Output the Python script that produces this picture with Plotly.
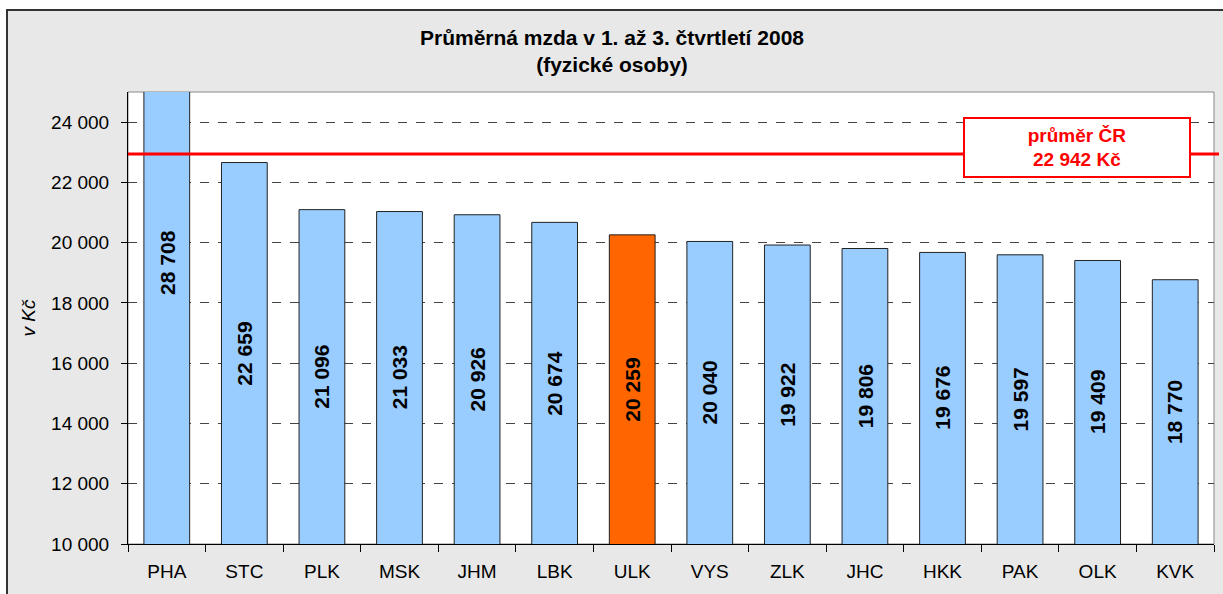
import plotly.graph_objects as go

categories = ["PHA", "STC", "PLK", "MSK", "JHM", "LBK", "ULK", "VYS", "ZLK", "JHC", "HKK", "PAK", "OLK", "KVK"]
values = [28708, 22659, 21096, 21033, 20926, 20674, 20259, 20040, 19922, 19806, 19676, 19597, 19409, 18770]
highlight = "ULK"
average_cr = 22942
y_ticks = [10000, 12000, 14000, 16000, 18000, 20000, 22000, 24000]

def fmt(v):
    return f"{v:,}".replace(",", " ")

FONT = "Liberation Sans, Arial"
colors = ["#ff6600" if c == highlight else "#99ccff" for c in categories]
base = 10000
mid = [(base + v) / 2 for v in values]

fig = go.Figure()
fig.add_trace(go.Bar(
    x=categories, y=values, marker=dict(color=colors, line=dict(color="#222222", width=1)),
    width=0.59, hoverinfo="skip",
))
for c, m, v in zip(categories, mid, values):
    fig.add_annotation(x=c, y=m, xref="x", yref="y", text="<b>" + fmt(v) + "</b>",
                       textangle=-90, showarrow=False,
                       font=dict(family=FONT, size=21, color="black"))

L, R, T, B = 128, 9, 92, 50
W, H = 1223, 594
pw, ph = W - L - R, H - T - B

def px_x(p):
    return (p - L) / pw

def px_y(p):
    return (H - B - p) / ph

# outer frame
fig.add_shape(type="rect", xref="paper", yref="paper",
              x0=px_x(7), x1=px_x(1240), y0=px_y(610), y1=px_y(10),
              fillcolor="#e8e8e8", line=dict(color="#333333", width=2), layer="below")
# plot background
fig.add_shape(type="rect", xref="paper", yref="paper", x0=0, x1=1, y0=0, y1=1,
              fillcolor="white", line=dict(color="#888888", width=1), layer="below")
# average line
fig.add_shape(type="line", xref="paper", yref="y", x0=0, x1=px_x(1219), y0=average_cr, y1=average_cr,
              line=dict(color="#ff0000", width=3), layer="above")
fig.add_annotation(xref="paper", yref="paper", x=px_x(1077), y=px_y(147),
                   xanchor="center", yanchor="middle",
                   text="<b>průměr ČR<br>" + fmt(average_cr) + " Kč</b>", showarrow=False,
                   font=dict(family=FONT, size=19, color="#ff0000"),
                   bgcolor="white", bordercolor="#ff0000", borderwidth=2,
                   width=222, height=55, align="center")

fig.update_layout(
    width=W, height=H,
    margin=dict(l=L, r=R, t=T, b=B),
    paper_bgcolor="white", plot_bgcolor="rgba(0,0,0,0)",
    showlegend=False,
    title=dict(text="<b>Průměrná mzda v 1. až 3. čtvrtletí 2008<br>(fyzické osoby)</b>",
               x=612 / W, xref="container", xanchor="center", y=1 - 45 / H, yanchor="middle",
               font=dict(family=FONT, size=21, color="black")),
    font=dict(family=FONT, size=19, color="black"),
)
fig.update_xaxes(showline=True, linecolor="black", linewidth=1, ticks="outside", ticklen=7,
                 tickcolor="black", tickson="boundaries", showgrid=False,
                 tickfont=dict(size=19), range=[-0.5, 13.5], ticklabelstandoff=10)
fig.update_yaxes(range=[10000, 25000], tickvals=y_ticks, ticktext=[fmt(t) for t in y_ticks],
                 showline=True, linecolor="black", linewidth=1, ticks="outside", ticklen=6,
                 tickcolor="black", showgrid=True, gridcolor="#444444", griddash="dash",
                 gridwidth=1, zeroline=False, tickfont=dict(size=19), ticklabelstandoff=8,
                 title=dict(text="<i>v Kč</i>", font=dict(size=19), standoff=10))

fig.write_html("out.html", post_script="document.body.style.margin='0px';",
               config={"displayModeBar": False})
